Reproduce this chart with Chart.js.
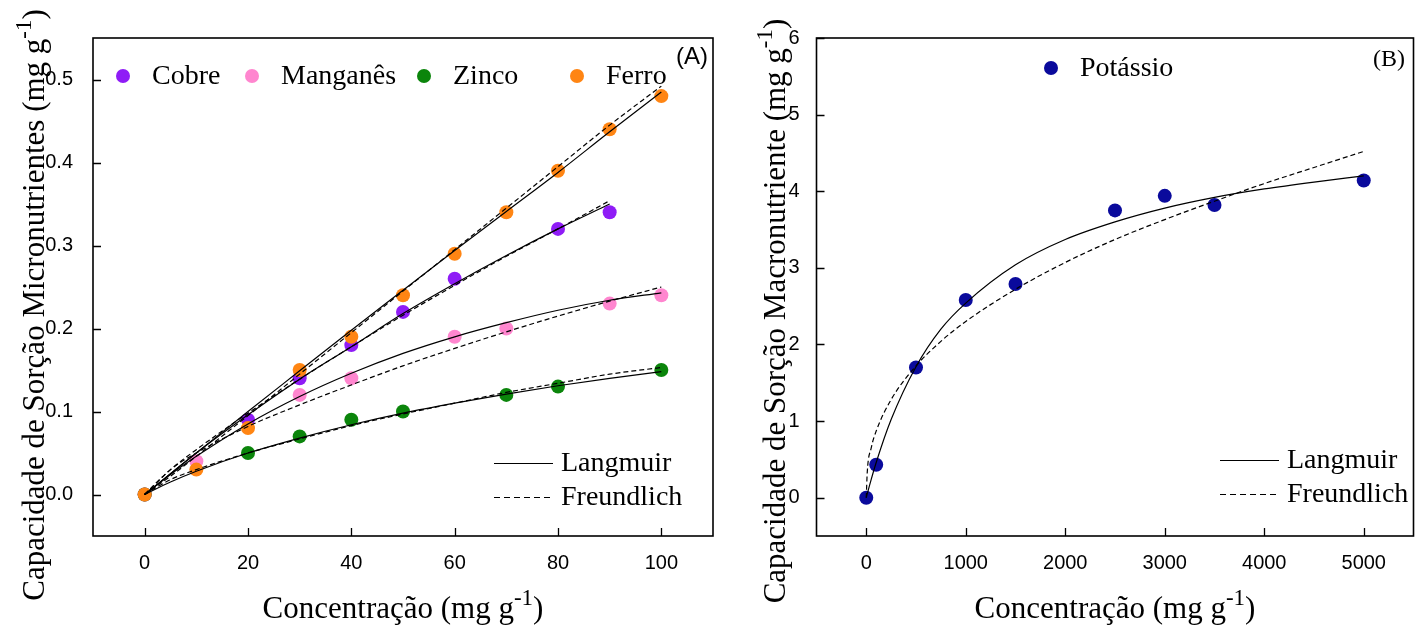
<!DOCTYPE html>
<html><head><meta charset="utf-8">
<script src="https://cdn.jsdelivr.net/npm/chart.js@4"></script>
<style>
html,body{margin:0;padding:0;background:#fff;overflow:hidden}
#wrap{position:relative;width:1423px;height:630px;background:#fff}
canvas{position:absolute;top:0}
#cA{left:0}
#cB{left:735px}
</style></head><body>
<div id="wrap"><canvas id="cA" width="735" height="630"></canvas><canvas id="cB" width="688" height="630"></canvas></div>
<script>
const SERIF = '"Liberation Serif","Times New Roman",serif';
const SANS = '"Liberation Sans",Arial,sans-serif';

// ---------- Panel A data ----------
const xTicksA = [0, 20, 40, 60, 80, 100];
const yTicksA = [0, 0.1, 0.2, 0.3, 0.4, 0.5];
const concA = [0, 10, 20, 30, 40, 50, 60, 70, 80, 90, 100];
const cobre    = [0, null, 0.09, 0.14, 0.18, 0.22, 0.26, null, 0.32, 0.34, null];
const manganes = [0, 0.04, null, 0.12, 0.14, null, 0.19, 0.20, null, 0.23, 0.24];
const zinco    = [0, null, 0.05, 0.07, 0.09, 0.10, null, 0.12, 0.13, null, 0.15];
const ferro    = [0, 0.03, 0.08, 0.15, 0.19, 0.24, 0.29, 0.34, 0.39, 0.44, 0.48];

const curveXA = [0, 5, 10, 20, 30, 40, 50, 60, 70, 80, 90, 100];
const cobreLang     = [0, 0.025, 0.050, 0.096, 0.139, 0.178, 0.218, 0.254, 0.288, 0.320, 0.350, null];
const cobreFreund   = [0, 0.030, 0.054, 0.098, 0.139, 0.178, 0.216, 0.252, 0.287, 0.320, 0.354, null];
const manganesLang  = [0, 0.024, 0.046, 0.085, 0.118, 0.146, 0.170, 0.190, 0.207, 0.222, 0.234, 0.243];
const manganesFreund= [0, 0.030, 0.050, 0.082, 0.108, 0.132, 0.155, 0.176, 0.196, 0.215, 0.233, 0.250];
const zincoLang     = [0, 0.015, 0.028, 0.050, 0.068, 0.084, 0.098, 0.110, 0.121, 0.131, 0.140, 0.148];
const zincoFreund   = [0, 0.018, 0.030, 0.050, 0.067, 0.083, 0.097, 0.110, 0.123, 0.134, 0.145, 0.153];
const ferroLang     = [0, 0.025, 0.050, 0.100, 0.149, 0.198, 0.246, 0.294, 0.341, 0.388, 0.437, 0.485];
const ferroFreund   = [0, 0.022, 0.046, 0.095, 0.145, 0.195, 0.245, 0.295, 0.345, 0.395, 0.445, 0.492];

const seriesNamesA = ['Cobre', 'Manganês', 'Zinco', 'Ferro'];
const seriesColorsA = ['#8f1cf6', '#ff86cf', '#0b850b', '#ff8513'];

// ---------- Panel B data ----------
const xTicksB = [0, 1000, 2000, 3000, 4000, 5000];
const yTicksB = [0, 1, 2, 3, 4, 5, 6];
const concB = [0, 100, 500, 1000, 1500, 2500, 3000, 3500, 5000];
const potassio = [0, 0.43, 1.70, 2.58, 2.79, 3.75, 3.94, 3.82, 4.14];
const curveXB = [0, 10, 50, 100, 250, 500, 750, 1000, 1500, 2000, 2500, 3000, 3500, 4000, 4500, 5000];
const potLang   = [0, 0.05, 0.24, 0.46, 1.02, 1.71, 2.20, 2.54, 3.04, 3.37, 3.60, 3.78, 3.92, 4.03, 4.12, 4.20];
const potFreund = [0, 0.33, 0.65, 0.87, 1.28, 1.72, 2.04, 2.30, 2.72, 3.07, 3.37, 3.63, 3.87, 4.10, 4.31, 4.52];
const seriesNamesB = ['Potássio'];
const seriesColorsB = ['#0a0a9c'];

const modelNames = ['Langmuir', 'Freundlich'];

function pts(xs, ys) {
  const out = [];
  xs.forEach((x, i) => { if (ys[i] !== null && ys[i] !== undefined) out.push({x: x, y: ys[i]}); });
  return out;
}
function curveDs(xs, ys, dashed) {
  return {data: pts(xs, ys), showLine: true, borderColor: '#000', borderWidth: 1.2,
    borderDash: dashed ? [5, 3] : [], pointRadius: 0, pointHoverRadius: 0,
    cubicInterpolationMode: 'monotone', fill: false, order: 0};
}
function pointDs(xs, ys, color) {
  return {data: pts(xs, ys), showLine: false, backgroundColor: color, borderColor: color,
    borderWidth: 0, pointRadius: 7, pointHoverRadius: 7, order: 1};
}

function drawSup(ctx, main, sup, tail, cx, baseY, size) {
  const big = size + 'px ' + SERIF, small = Math.round(size * 0.74) + 'px ' + SERIF;
  ctx.font = big; const w1 = ctx.measureText(main).width; const w3 = ctx.measureText(tail).width;
  ctx.font = small; const w2 = ctx.measureText(sup).width;
  let x = cx - (w1 + w2 + w3) / 2;
  ctx.textAlign = 'left'; ctx.textBaseline = 'alphabetic'; ctx.fillStyle = '#000';
  ctx.font = big; ctx.fillText(main, x, baseY); x += w1;
  ctx.font = small; ctx.fillText(sup, x, baseY - size * 0.42); x += w2;
  ctx.font = big; ctx.fillText(tail, x, baseY);
}

function makePlugin(cfg) {
  return {
    id: 'decor',
    afterDraw(chart) {
      const ctx = chart.ctx, a = chart.chartArea, sx = chart.scales.x, sy = chart.scales.y;
      ctx.save();
      // inner tick marks
      ctx.strokeStyle = '#000'; ctx.lineWidth = 1.3;
      ctx.beginPath();
      sx.ticks.forEach(t => { const p = Math.round(sx.getPixelForValue(t.value)) + 0.5; ctx.moveTo(p, a.bottom); ctx.lineTo(p, a.bottom - 8); });
      sy.ticks.forEach(t => { const p = Math.round(sy.getPixelForValue(t.value)) + 0.5; ctx.moveTo(a.left, p); ctx.lineTo(a.left + 8, p); });
      ctx.stroke();
      // frame
      ctx.lineWidth = 1.6;
      ctx.strokeRect(a.left, a.top, a.right - a.left, a.bottom - a.top);
      // axis titles
      drawSup(ctx, 'Concentração (mg g', '-1', ')', (a.left + a.right) / 2, 618, 31);
      ctx.save();
      ctx.translate(cfg.yTitleX, cfg.yTitleY);
      ctx.rotate(-Math.PI / 2);
      drawSup(ctx, cfg.yTitle + ' (mg g', '-1', ')', 0, 0, 31);
      ctx.restore();
      // panel label
      ctx.fillStyle = '#000'; ctx.textAlign = 'right'; ctx.textBaseline = 'middle';
      ctx.font = cfg.panelFont; ctx.fillText(cfg.panel, cfg.panelX, cfg.panelY);
      // series legend
      ctx.font = '28px ' + SERIF; ctx.textAlign = 'left';
      cfg.names.forEach((n, i) => {
        ctx.fillStyle = cfg.colors[i];
        ctx.beginPath(); ctx.arc(cfg.legX[i], cfg.legY, 7, 0, Math.PI * 2); ctx.fill();
        ctx.fillStyle = '#000'; ctx.fillText(n, cfg.legX[i] + 29, cfg.legY + 1);
      });
      // model legend
      modelNames.forEach((n, i) => {
        const y = cfg.modY + i * 34;
        ctx.beginPath(); ctx.lineWidth = 1.2; ctx.setLineDash(i === 1 ? [6, 4] : []);
        ctx.moveTo(cfg.modX, y + 0.5); ctx.lineTo(cfg.modX + 59, y + 0.5); ctx.stroke();
        ctx.setLineDash([]);
        ctx.fillText(n, cfg.modX + 67, y + 1);
      });
      ctx.restore();
    }
  };
}

function baseOptions(xmin, xmax, ymin, ymax, xt, yt, yw, padRight, yPad, yFmt) {
  return {
    responsive: false, animation: false, devicePixelRatio: 1,
    layout: {padding: {left: 0, right: padRight, top: 38, bottom: 0}},
    plugins: {legend: {display: false}, tooltip: {enabled: false}},
    scales: {
      x: {type: 'linear', min: xmin, max: xmax, grid: {display: false}, border: {display: false},
        afterFit(s) { s.height = 94; },
        afterBuildTicks(s) { s.ticks = xt.map(v => ({value: v})); },
        ticks: {font: {family: SANS, size: 20}, color: '#000', padding: 7, maxRotation: 0, autoSkip: false,
          callback: v => String(v)}},
      y: {type: 'linear', min: ymin, max: ymax, grid: {display: false}, border: {display: false},
        afterFit(s) { s.width = yw; },
        afterBuildTicks(s) { s.ticks = yt.map(v => ({value: v})); },
        ticks: {font: {family: SANS, size: 20}, color: '#000', padding: yPad, autoSkip: false, callback: yFmt}}
    }
  };
}

// Chart A
new Chart(document.getElementById('cA'), {
  type: 'scatter',
  data: {datasets: [
    curveDs(curveXA, ferroLang, false), curveDs(curveXA, ferroFreund, true),
    curveDs(curveXA, cobreLang, false), curveDs(curveXA, cobreFreund, true),
    curveDs(curveXA, manganesLang, false), curveDs(curveXA, manganesFreund, true),
    curveDs(curveXA, zincoLang, false), curveDs(curveXA, zincoFreund, true),
    pointDs(concA, ferro, seriesColorsA[3]),
    pointDs(concA, zinco, seriesColorsA[2]),
    pointDs(concA, manganes, seriesColorsA[1]),
    pointDs(concA, cobre, seriesColorsA[0])
  ]},
  options: baseOptions(-10, 110, -0.05, 0.55, xTicksA, yTicksA, 93, 22, 12, v => Number(v).toFixed(1)),
  plugins: [makePlugin({
    yTitle: 'Capacidade de Sorção Micronutrientes', yTitleX: 44, yTitleY: 305,
    panel: '(A)', panelFont: '24px ' + SANS, panelX: 708, panelY: 57,
    names: seriesNamesA, colors: seriesColorsA, legX: [123, 252, 424, 577], legY: 76,
    modX: 494, modY: 463
  })]
});

// Chart B
new Chart(document.getElementById('cB'), {
  type: 'scatter',
  data: {datasets: [
    curveDs(curveXB, potLang, false), curveDs(curveXB, potFreund, true),
    pointDs(concB, potassio, seriesColorsB[0])
  ]},
  options: baseOptions(-500, 5500, -0.5, 6, xTicksB, yTicksB, 81.5, 9.5, 9, v => String(v)),
  plugins: [makePlugin({
    yTitle: 'Capacidade de Sorção Macronutriente', yTitleX: 50, yTitleY: 311,
    panel: '(B)', panelFont: '24px ' + SERIF, panelX: 670, panelY: 60,
    names: seriesNamesB, colors: seriesColorsB, legX: [316], legY: 68,
    modX: 485, modY: 460
  })]
});
</script>
</body></html>
